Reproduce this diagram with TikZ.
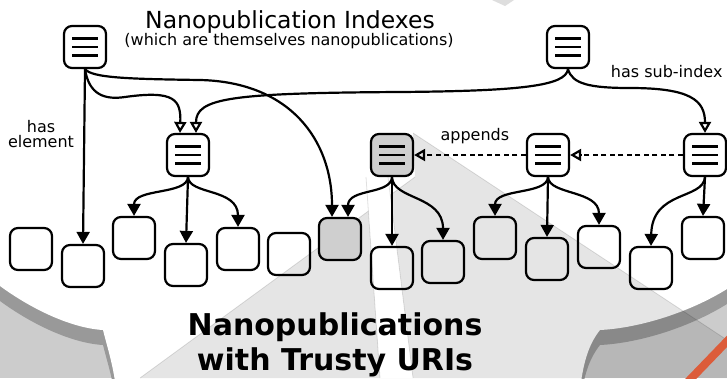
\documentclass[tikz,border=0pt]{standalone}
\usepackage{fontspec}
\setmainfont{DejaVu Sans}
\usetikzlibrary{arrows.meta}

\definecolor{outside}{gray}{0.8}
\definecolor{cloudshade}{gray}{0.6}
\definecolor{picked}{gray}{0.81}
\definecolor{tagorange}{RGB}{220,92,58}

\begin{document}
\begin{tikzpicture}[x=1pt,y=-1pt,
	idx/.style={draw,line width=2.2pt,rounded corners=8pt,minimum size=42pt,inner sep=0pt,
		path picture={\foreach \d in {-8.5,0,8.5}
			\draw[line width=2.2pt] ([xshift=-13pt,yshift=\d pt]path picture bounding box.center) -- ++(26pt,0pt);}},
	elem/.style={draw,line width=2.2pt,rounded corners=8pt,minimum size=42pt,inner sep=0pt},
	has/.style={line width=2.2pt,-{Triangle[width=13pt,length=12pt]}},
	sub/.style={line width=2.2pt,-{Triangle[open,width=12pt,length=11pt]}},
	app/.style={sub,dash pattern=on 5pt off 3.5pt},
	lbl/.style={font=\fontsize{16}{18}\selectfont}]
	% background: cloud, its shadow and the light beam
	\clip (0,0) rectangle (727,378);
	\fill[outside] (0,0) rectangle (727,378);
	\foreach \s/\c in {15/cloudshade,0/white}{
		\begin{scope}[shift={(0,\s)}]
			\fill[\c] (0,-20) -- (727,-20) -- (727,289) .. controls (690,312) and (640,328) .. (600,330)
				.. controls (588,345) and (582,365) .. (579,400) -- (117,400)
				.. controls (115,370) and (108,350) .. (103,330) .. controls (70,328) and (30,308) .. (0,286) -- cycle;
		\end{scope}}
	\fill[black!13] (492,0) -- (514,0) -- (505,6) -- cycle;
	\fill[black,opacity=0.1] (413,133) -- (727,340) -- (727,378) -- (140,378) -- (415,177) -- cycle;
	\draw[black,opacity=0.12,line width=0.8pt] (413,133) -- (727,340) (415,177) -- (140,378);
	\fill[white] (366,177) -- (388,177) -- (413,378) -- (380,378) -- cycle;
	\draw[black,opacity=0.12,line width=0.8pt] (366,177) -- (380,378) (388,177) -- (413,378);
	\draw[tagorange,line width=8pt] (680,390) -- (735,333);

	% indexes
	\node[idx] (i1) at (85,47) {};
	\node[idx] (i2) at (568,47) {};
	\node[idx] (i3) at (188,155) {};
	\node[idx,fill=picked] (i4) at (392,155) {};
	\node[idx] (i5) at (548,155) {};
	\node[idx] (i6) at (705,155) {};

	% elements
	\foreach \n/\x/\y in {1/31/249,2/83/266,3/134/238,4/186/265,5/238/249,6/289/254,
		8/392/268,9/443/262,10/495/238,11/547/259,12/599/247,13/651/268,14/703/238}
		\node[elem] (e\n) at (\x,\y) {};
	\node[elem,fill=picked] (e7) at (340,239) {};

	% sub-indexes
	\draw[sub] (i1.south) .. controls (89,95) and (105,100) .. (125,97)
		.. controls (175,90) and (181,100) .. ([xshift=-8pt]i3.north);
	\draw[sub] (i2.south) .. controls (566,86) and (520,91) .. (400,92)
		.. controls (230,93) and (196,98) .. ([xshift=8pt]i3.north);
	\draw[sub] (i2.south) .. controls (572,84) and (590,88) .. (630,88)
		.. controls (690,88) and (705,100) .. (i6.north);
	\draw[app] (i6.west) -- (i5.east);
	\draw[app] (i5.west) -- (i4.east);

	% elements
	\draw[has] (i1.south) -- (e2.north);
	\draw[has] (i1.south) .. controls (92,78) and (130,79) .. (200,80)
		.. controls (290,82) and (332,140) .. ([xshift=-8pt]e7.north);
	\draw[has] (i3.south) .. controls (187,195) and (134,188) .. (e3.north);
	\draw[has] (i3.south) -- (e4.north);
	\draw[has] (i3.south) .. controls (189,195) and (238,188) .. (e5.north);
	\draw[has] (i4.south) .. controls (391,195) and (348,188) .. ([xshift=8pt]e7.north);
	\draw[has] (i4.south) -- (e8.north);
	\draw[has] (i4.south) .. controls (393,200) and (443,195) .. (e9.north);
	\draw[has] (i5.south) .. controls (547,195) and (495,188) .. (e10.north);
	\draw[has] (i5.south) -- (e11.north);
	\draw[has] (i5.south) .. controls (549,195) and (599,190) .. (e12.north);
	\draw[has] (i6.south) .. controls (703,200) and (652,190) .. (e13.north);
	\draw[has] (i6.south) -- (e14.north);

	% labels
	\node[anchor=base,font=\fontsize{23.5}{27}\selectfont] (title) at (290,28) {Nanopublication Indexes};
	\node[anchor=base,font=\fontsize{16}{18}\selectfont] (subtitle) at (289,45.5) {(which are themselves nanopublications)};
	\node[lbl,align=center] (haselem) at (41,134) {has\\[-3pt]element};
	\node[lbl,anchor=base east] (hassub) at (726,77) {has sub-index};
	\node[lbl,anchor=base west] (appends) at (437,140) {appends};
	\node[align=center,font=\fontsize{30}{35}\selectfont\bfseries] (cloudname) at (335,345) {Nanopublications\\with Trusty URIs};
\end{tikzpicture}
\end{document}
